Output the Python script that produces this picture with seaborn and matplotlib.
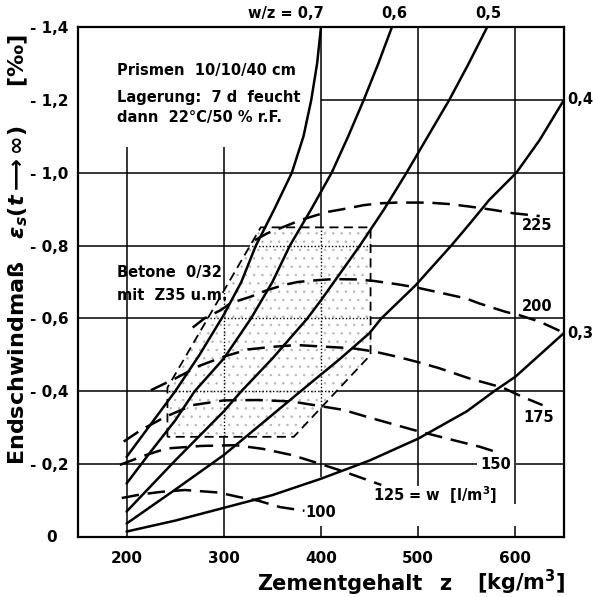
import numpy as np
import pandas as pd
import matplotlib
matplotlib.use("Agg")
import matplotlib.pyplot as plt
import seaborn as sns
from matplotlib.patches import Polygon
from matplotlib.transforms import blended_transform_factory

# ---------------- data ----------------
# solid curves: constant water/cement ratio w/z
z_wz03 = [200, 250, 300, 350, 400, 450, 500, 550, 578, 600, 650]
e_wz03 = [0.015, 0.045, 0.08, 0.115, 0.16, 0.21, 0.27, 0.345, 0.40, 0.44, 0.56]

z_wz04 = [200, 250, 300, 343, 379, 420, 450, 462, 497, 534, 553, 573, 601, 625, 650]
e_wz04 = [0.037, 0.13, 0.225, 0.32, 0.40, 0.49, 0.56, 0.60, 0.69, 0.80, 0.86, 0.925, 1.0, 1.09, 1.2]

z_wz05 = [200, 250, 300, 318, 350, 386, 400, 440, 465, 488, 510, 532, 552, 571]
e_wz05 = [0.07, 0.21, 0.345, 0.40, 0.49, 0.60, 0.65, 0.80, 0.90, 1.0, 1.1, 1.2, 1.3, 1.4]

z_wz06 = [200, 225, 250, 270, 300, 328, 350, 368, 390, 411, 428, 444, 459, 473]
e_wz06 = [0.147, 0.235, 0.32, 0.40, 0.49, 0.60, 0.70, 0.80, 0.90, 1.0, 1.1, 1.2, 1.3, 1.4]

z_wz07 = [200, 225, 250, 275, 300, 318, 333, 352, 370, 382, 390, 396, 400]
e_wz07 = [0.22, 0.31, 0.40, 0.50, 0.61, 0.70, 0.80, 0.90, 1.0, 1.1, 1.2, 1.3, 1.4]

# dashed curves: constant water content w [l/m3]
z_w100 = [195, 215, 236, 260, 295, 315, 335, 358, 383]
e_w100 = [0.107, 0.117, 0.124, 0.129, 0.122, 0.11, 0.10, 0.082, 0.072]

z_w125 = [193, 220, 241, 277, 312, 340, 370, 400, 423, 462]
e_w125 = [0.198, 0.225, 0.243, 0.25, 0.252, 0.242, 0.225, 0.20, 0.18, 0.143]

z_w150 = [197, 215, 240, 268, 300, 335, 370, 423, 447, 495, 530, 563, 582]
e_w150 = [0.262, 0.294, 0.33, 0.362, 0.375, 0.376, 0.372, 0.349, 0.33, 0.294, 0.27, 0.248, 0.232]

z_w175 = [225, 250, 275, 300, 325, 350, 375, 400, 433, 455, 478, 500, 522, 553, 587, 607, 628]
e_w175 = [0.403, 0.435, 0.47, 0.495, 0.515, 0.522, 0.527, 0.523, 0.518, 0.509, 0.495, 0.48, 0.463, 0.435, 0.41, 0.385, 0.362]

z_w200 = [268, 280, 297, 307, 328, 345, 362, 376, 396, 413, 437, 454, 478, 498, 522, 549, 563, 590, 604, 625, 648]
e_w200 = [0.575, 0.60, 0.623, 0.642, 0.66, 0.678, 0.692, 0.70, 0.705, 0.708, 0.707, 0.703, 0.694, 0.685,
          0.671, 0.655, 0.641, 0.618, 0.609, 0.591, 0.563]

z_w225 = [332, 345, 365, 379, 396, 408, 427, 444, 461, 478, 495, 510, 532, 553, 577, 597, 625]
e_w225 = [0.815, 0.834, 0.855, 0.87, 0.884, 0.893, 0.902, 0.911, 0.916, 0.918, 0.918, 0.918, 0.914,
          0.907, 0.898, 0.889, 0.881]

# shaded range "Betone 0/32 mit Z35 u.m."
region_z = [242, 242, 338, 451, 451, 372]
region_e = [0.275, 0.41, 0.85, 0.85, 0.50, 0.275]

x_ticks = [200, 300, 400, 500, 600]
x_ticklabels = ["200", "300", "400", "500", "600"]
y_ticks = [0.2, 0.4, 0.6, 0.8, 1.0, 1.2, 1.4]
y_ticklabels = ["- 0,2", "- 0,4", "- 0,6", "- 0,8", "- 1,0", "- 1,2", "- 1,4"]

# ---------------- style ----------------
sns.set_theme(style="white")
plt.rcParams["font.family"] = ["DejaVu Sans"]
plt.rcParams["font.weight"] = "bold"
plt.rcParams["mathtext.fontset"] = "dejavusans"
plt.rcParams["hatch.linewidth"] = 0.5
for k in ["text.color", "axes.labelcolor", "xtick.color", "ytick.color", "axes.edgecolor"]:
    plt.rcParams[k] = "black"

W, H = 593, 597
fig = plt.figure(figsize=(W / 100, H / 100), dpi=100)
ax = fig.add_axes([78 / W, 1 - 537 / H, (564 - 78) / W, (537 - 27) / H])
ax.set_xlim(150, 650)
ax.set_ylim(0, 1.4)

for s in ax.spines.values():
    s.set_color("black")
    s.set_linewidth(1.6)

# ---------------- grid ----------------
gkw = dict(color="black", lw=1.1, zorder=1)
ax.vlines([200, 300], 0, 1.07, **gkw)
ax.vlines(400, 0.165, 1.4, **gkw)
ax.vlines(500, 0.14, 1.4, **gkw)
ax.vlines(600, 0.09, 1.4, **gkw)
ax.vlines([400, 500, 600], 0, 0.03, **gkw)
ax.hlines([0.4, 0.6, 0.8, 1.0], 150, 650, **gkw)
ax.hlines(0.2, 150, 561, **gkw)
ax.hlines(0.2, 601, 650, **gkw)
ax.hlines(1.2, 400, 650, **gkw)

# ---------------- shaded region ----------------
poly_xy = np.column_stack([region_z, region_e])
bg = Polygon(poly_xy, closed=True, facecolor="white", edgecolor="none", zorder=1.8)
ax.add_patch(bg)
fill = Polygon(poly_xy, closed=True, facecolor="none", edgecolor="#b4b4b4",
               linewidth=0, hatch="..", zorder=2)
ax.add_patch(fill)
# dotted grid inside region
dot = dict(color="black", lw=1.0, linestyle=(0, (1, 1.5)), zorder=2.2)
for ln in [ax.vlines([300, 400], 0, 1.4, **dot), ax.hlines([0.4, 0.6, 0.8], 150, 650, **dot)]:
    ln.set_clip_path(bg)
outline = Polygon(poly_xy, closed=True, facecolor="none", edgecolor="black",
                  lw=1.3, linestyle=(0, (5, 3)), zorder=2.5)
ax.add_patch(outline)

# ---------------- curves ----------------
solid = [(z_wz03, e_wz03), (z_wz04, e_wz04), (z_wz05, e_wz05), (z_wz06, e_wz06), (z_wz07, e_wz07)]
for zz, ee in solid:
    sns.lineplot(x=zz, y=ee, ax=ax, color="black", lw=1.8, estimator=None,
                 sort=False, legend=False, zorder=3)

dashed = [(z_w100, e_w100), (z_w125, e_w125), (z_w150, e_w150),
          (z_w175, e_w175), (z_w200, e_w200), (z_w225, e_w225)]
for zz, ee in dashed:
    sns.lineplot(x=zz, y=ee, ax=ax, color="black", lw=1.8, estimator=None,
                 sort=False, legend=False, linestyle=(0, (7, 3.5)), zorder=3)

# ---------------- ticks ----------------
ax.set_xticks(x_ticks)
ax.set_xticklabels(x_ticklabels, fontsize=11, fontweight="bold", color="black")
ax.set_yticks(y_ticks)
ax.set_yticklabels(y_ticklabels, fontsize=11, fontweight="bold", color="black")
ax.tick_params(axis="both", length=0)
ax.tick_params(axis="x", pad=10)
ax.tick_params(axis="y", pad=7)
trans = blended_transform_factory(ax.transAxes, ax.transData)
ax.text(-0.054, 0.0, "0", transform=trans, ha="center", va="center",
        fontsize=11, fontweight="bold", color="black")
ax.set_xlabel("")
ax.set_ylabel("")

# ---------------- annotations ----------------
tkw = dict(fontsize=10.5, fontweight="bold", color="black", clip_on=False)
ax.text(403, 1.438, "w/z = 0,7", ha="right", va="center", **tkw)
ax.text(475, 1.438, "0,6", ha="center", va="center", **tkw)
ax.text(572, 1.438, "0,5", ha="center", va="center", **tkw)
ax.text(653, 1.202, "0,4", ha="left", va="center", **tkw)
ax.text(653, 0.56, "0,3", ha="left", va="center", **tkw)
ax.text(622, 0.854, "225", ha="center", va="center", **tkw)
ax.text(622, 0.634, "200", ha="center", va="center", **tkw)
ax.text(624, 0.329, "175", ha="center", va="center", **tkw)
ax.text(580, 0.198, "150", ha="center", va="center", **tkw)
ax.text(453, 0.115, "125 = w  [l/m$^3$]", ha="left", va="center", **tkw)
ax.text(400, 0.067, "100", ha="center", va="center", **tkw)

ax.text(190, 1.268, "Prismen  10/10/40 cm", ha="left", va="baseline", **tkw)
ax.text(190, 1.194, "Lagerung:  7 d  feucht", ha="left", va="baseline", **tkw)
ax.text(190, 1.139, "dann  22°C/50 % r.F.", ha="left", va="baseline", **tkw)
ax.text(190, 0.714, "Betone  0/32", ha="left", va="baseline", **tkw)
ax.text(190, 0.651, "mit  Z35 u.m.", ha="left", va="baseline", **tkw)

# axis titles
fig.text(257 / W, 1 - 590 / H, "Zementgehalt", ha="left", va="baseline",
         fontsize=15, fontweight="bold", color="black")
fig.text(445 / W, 1 - 590 / H, "z", ha="center", va="baseline",
         fontsize=15, fontweight="bold", color="black")
fig.text(565 / W, 1 - 590 / H, "[kg/m$^3$]", ha="right", va="baseline",
         fontsize=15, fontweight="bold", color="black")
fig.text(18 / W, 1 - 250 / H,
         "Endschwindmaß   $\\varepsilon_s(t \\longrightarrow \\infty)$     [‰]",
         ha="center", va="center", rotation=90, fontsize=16, fontweight="bold",
         color="black")

fig.savefig("out.png", dpi=100, facecolor="white")
